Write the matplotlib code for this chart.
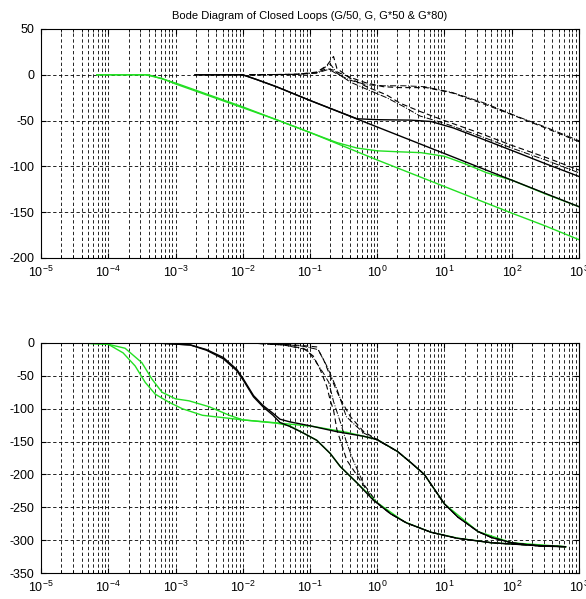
import numpy as np
import matplotlib
matplotlib.use("Agg")
import matplotlib.pyplot as plt
from matplotlib.ticker import LogLocator, MultipleLocator

plt.rcParams['font.family'] = ['Liberation Sans', 'DejaVu Sans']
plt.rcParams['axes.unicode_minus'] = False

title = "Bode Diagram of Closed Loops (G/50, G, G*50 & G*80)"

# ---- magnitude (dB), x given as log10(frequency) ----
mag_green_a_x = [-4.17, -3.4, -3.0, -2.5, -2.0, -1.5, -1.0, -0.5, 0.0, 0.5, 1.0, 1.5, 2.0, 2.5, 3.0]
mag_green_a_y = [0, 0, -9, -22, -35, -49, -63, -78, -93, -107.5, -122, -136.5, -151, -165, -180]

mag_green_b_x = [-4.17, -3.45, -3.2, -3.0, -2.5, -2.0, -1.5, -1.0, -0.6, -0.3, 0.0, 0.3, 0.65, 1.0, 1.3, 1.63, 2.0, 2.5, 3.0]
mag_green_b_y = [0, 0, -4, -10, -23, -36, -49, -63, -74, -80, -83, -84, -85, -89, -97, -107, -115, -130, -144]

mag_black_1_x = [-2.71, -2.0, -1.8, -1.5, -1.0, 0.0, 1.0, 2.0, 3.0]
mag_black_1_y = [0, 0, -5, -13, -28, -57, -86, -115, -144]

mag_black_2_x = [-2.71, -2.0, -1.8, -1.5, -1.0, -0.3, 0.0, 0.5, 0.8, 1.13, 1.63, 2.12, 2.5, 3.0]
mag_black_2_y = [0, 0, -5, -13, -28, -48, -49, -49.5, -51, -58, -72, -86, -97, -111]

mag_dash_1_x = [-1.9, -1.2, -0.9, -0.75, -0.65, -0.6, -0.4, -0.157, 0.14, 0.34, 0.636, 1.0, 1.5, 2.0, 2.5, 3.0]
mag_dash_1_y = [0, 0.5, 3, 10, 20, 7, -4, -13, -22, -31, -40, -50, -63, -77, -90, -104]

mag_dash_2_x = [-1.9, -1.2, -0.9, -0.75, -0.65, -0.55, -0.355, -0.157, 0.09, 0.34, 0.73, 1.126, 1.63, 2.12, 2.5, 3.0]
mag_dash_2_y = [0, 0.5, 2, 7, 5, 1.6, -4, -9, -13, -14, -14, -20, -33, -47, -58, -73]

mag_dashdot_1_x = [-1.9, -1.2, -0.9, -0.78, -0.7, -0.6, -0.4, -0.15, 0.14, 0.4, 0.636, 1.0, 1.5, 2.0, 2.5, 3.0]
mag_dashdot_1_y = [0, 0.5, 2, 8, 12, 2, -8, -16, -25, -35, -45, -53, -66, -80, -93, -107]

mag_dashdot_2_x = [-1.9, -1.2, -0.85, -0.72, -0.6, -0.4, -0.15, 0.1, 0.4, 0.7, 1.1, 1.6, 2.1, 2.5, 3.0]
mag_dashdot_2_y = [0, 0.5, 3, 6, 1, -6, -11, -12, -12, -13, -19, -31, -46, -57, -72]

# ---- phase (deg) ----
ph_green_1_x = [-4.42, -4.0, -3.78, -3.6, -3.45, -3.3, -3.1, -2.9, -2.6, -2.0, -1.5, -1.3, -1.1, -0.9, -0.7, -0.55, -0.3, 0.0, 0.4, 0.8, 1.2, 1.7, 2.2, 2.8]
ph_green_1_y = [0, -2, -15, -35, -60, -78, -90, -100, -110, -117, -122, -126, -137, -148, -168, -188, -213, -243, -272, -288, -297, -304, -307, -310]

ph_green_2_x = [-4.42, -4.0, -3.75, -3.5, -3.35, -3.2, -3.0, -2.8, -2.5, -2.2, -2.0, -1.446, -0.95, -0.45, -0.2, 0.0, 0.3, 0.5, 0.7, 1.0, 1.5, 2.0, 2.8]
ph_green_2_y = [0, -2, -8, -30, -55, -75, -85, -88, -97, -110, -117, -122, -127, -136, -142, -147, -165, -182, -200, -245, -287, -304, -310]

ph_black_1_x = [-3.28, -2.78, -2.54, -2.29, -2.09, -1.99, -1.84, -1.7, -1.55, -1.446, -1.3, -1.0, -0.6, -0.2, 0.0, 0.3, 0.5, 0.7, 0.9, 1.0, 1.2, 1.5, 1.7, 2.0, 2.4, 2.8]
ph_black_1_y = [0, -3, -10, -22, -40, -55, -80, -95, -107, -116, -120, -126, -135, -142, -147, -165, -182, -200, -230, -245, -265, -287, -296, -304, -309, -310]

ph_black_2_x = [-3.28, -2.78, -2.54, -2.29, -2.09, -1.99, -1.84, -1.7, -1.55, -1.446, -1.3, -1.1, -0.9, -0.7, -0.55, -0.3, -0.06, 0.2, 0.44, 0.8, 1.18, 1.7, 2.17, 2.8]
ph_black_2_y = [0, -3, -11, -24, -42, -57, -82, -97, -110, -121, -127, -137, -148, -168, -188, -213, -239, -260, -274, -288, -297, -304, -307, -310]

ph_dash_1_x = [-1.9, -1.4, -1.1, -0.95, -0.85, -0.75, -0.7, -0.65, -0.6, -0.455, -0.31, -0.06, 0.2, 0.44, 0.8, 1.18, 1.7, 2.17, 2.8]
ph_dash_1_y = [0, -3, -8, -20, -40, -66, -87, -102, -132, -178, -200, -239, -260, -274, -288, -297, -304, -307, -310]

ph_dash_2_x = [-1.9, -1.4, -1.1, -0.9, -0.8, -0.7, -0.55, -0.4, -0.2, 0.0, 0.3, 0.5, 0.7, 0.9, 1.0, 1.2, 1.5, 1.7, 2.0, 2.4, 2.8]
ph_dash_2_y = [0, -2, -4, -6, -25, -50, -85, -112, -135, -147, -165, -182, -200, -230, -245, -265, -287, -296, -304, -309, -310]

ph_dashdot_1_x = [-1.9, -1.4, -1.05, -0.93, -0.8, -0.72, -0.65, -0.55, -0.46, -0.36, -0.2, 0.0, 0.2, 0.44, 0.8, 1.18, 1.7, 2.17, 2.8]
ph_dashdot_1_y = [0, -3, -10, -26, -46, -60, -89, -120, -150, -178, -215, -243, -260, -274, -288, -297, -304, -307, -310]

ph_dashdot_2_x = [-1.9, -1.4, -1.1, -0.88, -0.75, -0.6, -0.46, -0.36, -0.2, 0.0, 0.3, 0.5, 0.7, 0.9, 1.0, 1.2, 1.5, 1.7, 2.0, 2.4, 2.8]
ph_dashdot_2_y = [0, -2, -5, -10, -35, -70, -112, -122, -137, -148, -165, -182, -200, -230, -245, -265, -287, -296, -304, -309, -310]

green = '#22e022'

def f(v):
    return 10.0 ** np.array(v)

def style_axes(ax, ylo, yhi):
    ax.set_xscale('log')
    ax.set_xlim(1e-5, 1e3)
    ax.set_ylim(ylo, yhi)
    ax.xaxis.set_major_locator(LogLocator(base=10, numticks=20))
    ax.xaxis.set_minor_locator(LogLocator(base=10, subs=np.arange(2, 10), numticks=100))
    ax.yaxis.set_major_locator(MultipleLocator(50))
    ax.grid(True, which='major', color='k', linestyle=(0, (4, 3)), linewidth=0.6)
    ax.grid(True, which='minor', axis='x', color='k', linestyle=(0, (4, 3)), linewidth=0.6)
    ax.tick_params(which='both', direction='in', top=True, right=True, labelsize=9, pad=5)
    ax.tick_params(which='minor', length=2)
    for s in ax.spines.values():
        s.set_linewidth(0.8)

fig = plt.figure(figsize=(5.86, 5.99), dpi=100)
ax1 = fig.add_axes([0.070, 0.5693, 0.918, 0.3823])
ax2 = fig.add_axes([0.070, 0.0434, 0.918, 0.384])

# magnitude
ax1.plot(f(mag_green_a_x), mag_green_a_y, color=green, lw=1)
ax1.plot(f(mag_green_b_x), mag_green_b_y, color=green, lw=1)
ax1.plot(f(mag_black_1_x), mag_black_1_y, color='k', lw=1)
ax1.plot(f(mag_black_2_x), mag_black_2_y, color='k', lw=1)
ax1.plot(f(mag_dash_1_x), mag_dash_1_y, color='k', lw=0.8, ls='--', dashes=(5, 3))
ax1.plot(f(mag_dash_2_x), mag_dash_2_y, color='k', lw=0.8, ls='--', dashes=(5, 3))
ax1.plot(f(mag_dashdot_1_x), mag_dashdot_1_y, color='k', lw=0.7, ls='-.')
ax1.plot(f(mag_dashdot_2_x), mag_dashdot_2_y, color='k', lw=0.7, ls='-.')
style_axes(ax1, -200, 50)
ax1.set_title(title, fontsize=8, pad=7)

# phase
ax2.plot(f(ph_green_1_x), ph_green_1_y, color=green, lw=1)
ax2.plot(f(ph_green_2_x), ph_green_2_y, color=green, lw=1)
ax2.plot(f(ph_black_1_x), ph_black_1_y, color='k', lw=1)
ax2.plot(f(ph_black_2_x), ph_black_2_y, color='k', lw=1)
ax2.plot(f(ph_dash_1_x), ph_dash_1_y, color='k', lw=0.8, ls='--', dashes=(5, 3))
ax2.plot(f(ph_dash_2_x), ph_dash_2_y, color='k', lw=0.8, ls='--', dashes=(5, 3))
ax2.plot(f(ph_dashdot_1_x), ph_dashdot_1_y, color='k', lw=0.7, ls='-.')
ax2.plot(f(ph_dashdot_2_x), ph_dashdot_2_y, color='k', lw=0.7, ls='-.')
style_axes(ax2, -350, 0)

fig.savefig("out.png", dpi=100)
